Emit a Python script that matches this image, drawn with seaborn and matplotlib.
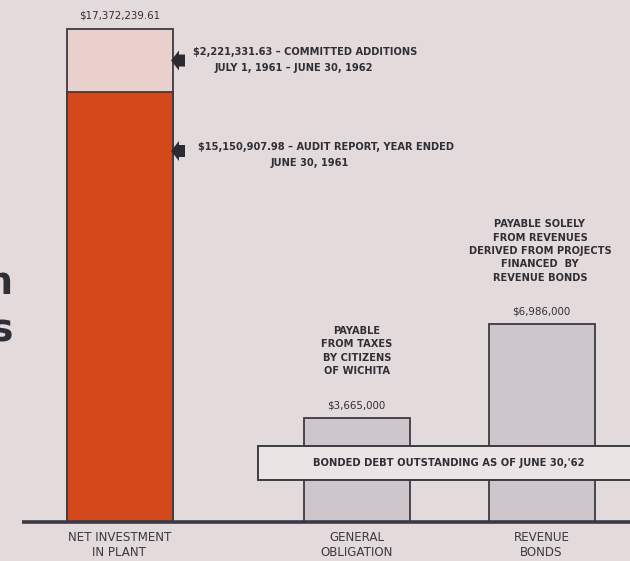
import numpy as np
import pandas as pd
import matplotlib
matplotlib.use("Agg")
import matplotlib.pyplot as plt
import matplotlib.patches as mpatches
import seaborn as sns

# dane (dolary)
LABELS = ["NET INVESTMENT\nIN PLANT", "GENERAL\nOBLIGATION", "REVENUE\nBONDS"]
KINDS = ["plant", "general", "revenue"]
AUDIT = 15150907.98        # audit report, year ended June 30, 1961
COMMITTED = 2221331.63     # committed additions July 1, 1961 - June 30, 1962
DEBT = [3665000, 6986000]  # general obligation, revenue bonds
TOTAL = AUDIT + COMMITTED

NOTE_TOP = ["– COMMITTED ADDITIONS", "JULY 1, 1961 – JUNE 30, 1962"]
NOTE_AUDIT = ["– AUDIT REPORT, YEAR ENDED", "JUNE 30, 1961"]
NOTE_GO = "PAYABLE\nFROM TAXES\nBY CITIZENS\nOF WICHITA"
NOTE_REV = "PAYABLE SOLELY\nFROM REVENUES\nDERIVED FROM PROJECTS\nFINANCED  BY\nREVENUE BONDS"
BOX_TEXT = "BONDED DEBT OUTSTANDING AS OF JUNE 30,'62"

# kolory / uklad
BG = "#e3dadb"
ORANGE = "#d4491a"
PINK = "#e9d0cd"
GREY = "#cdc7cb"
BOXC = "#ebe4e5"
INK = "#2f2f35"
EDGE = "#3b3b42"

W, H = 630, 561
BASE = 522                       # baseline w pikselach
SCALE = (BASE - 29) / TOTAL      # px na dolara
CENTERS = [119.5, 356.5, 541.5]
BAR_W = 106


def yd(p):
    return (BASE - p) / SCALE


fig = plt.figure(figsize=(W / 100, H / 100), dpi=100)
fig.patch.set_facecolor(BG)
ax = fig.add_axes([0, 0, 1, 1])
ax.set_facecolor(BG)

# gorny segment (suma) pod spodem
df_top = pd.DataFrame({"x": [CENTERS[0]], "y": [TOTAL]})
sns.barplot(data=df_top, x="x", y="y", native_scale=True, width=BAR_W,
            color=PINK, saturation=1, errorbar=None,
            edgecolor=EDGE, linewidth=1.3, ax=ax)

df = pd.DataFrame({"x": CENTERS, "y": [AUDIT] + DEBT, "kind": KINDS})
unit = np.diff(sorted(CENTERS)).min()
sns.barplot(data=df, x="x", y="y", hue="kind", native_scale=True,
            width=BAR_W / unit, saturation=1, errorbar=None, legend=False,
            palette={"plant": ORANGE, "general": GREY, "revenue": GREY},
            edgecolor=EDGE, linewidth=1.3, ax=ax)

ax.set_xlim(0, W)
ax.set_ylim(yd(H), yd(0))
ax.axis("off")

# linia bazowa
ax.plot([22, W], [0, 0], color="#3a3a46", lw=2.6, solid_capstyle="butt", zorder=5)

# ramka "bonded debt"
ax.add_patch(mpatches.Rectangle((258, yd(480)), W + 20 - 258, yd(446) - yd(480),
                                facecolor=BOXC, edgecolor=EDGE, lw=1.4, zorder=6))
ax.text(449, yd(463), BOX_TEXT, ha="center", va="center", fontsize=7.2,
        fontweight="bold", color=INK, zorder=7)


def arrow(cy_px):
    pts = [(171, cy_px), (179, cy_px - 10), (179, cy_px - 6), (185, cy_px - 6),
           (185, cy_px + 6), (179, cy_px + 6), (179, cy_px + 10)]
    ax.add_patch(mpatches.Polygon([(x, yd(y)) for x, y in pts], closed=True,
                                  facecolor="#2a2a30", edgecolor="none", zorder=6))


mid_top = BASE - (AUDIT + COMMITTED / 2) * SCALE
arrow(mid_top)
arrow(151)

bold = dict(fontweight="bold", color=INK, fontsize=7.1)
ax.text(193, yd(52), f"${COMMITTED:,.2f} " + NOTE_TOP[0], ha="left", va="center", **bold)
ax.text(294, yd(68), NOTE_TOP[1], ha="center", va="center", **bold)
ax.text(198, yd(147), f"${AUDIT:,.2f} " + NOTE_AUDIT[0], ha="left", va="center", **bold)
ax.text(310, yd(163), NOTE_AUDIT[1], ha="center", va="center", **bold)

ax.text(540, yd(251), NOTE_REV, ha="center", va="center", linespacing=1.42, **bold)
ax.text(357, yd(351), NOTE_GO, ha="center", va="center", linespacing=1.42, **bold)

vals = dict(ha="center", va="center", fontsize=7.4, color=INK)
ax.text(CENTERS[0], yd(16), f"${TOTAL:,.2f}", **vals)
ax.text(CENTERS[1], yd(405), f"${DEBT[0]:,.0f}", **vals)
ax.text(CENTERS[2], yd(311), f"${DEBT[1]:,.0f}", **vals)

for cx, lab in zip(CENTERS, LABELS):
    ax.text(cx, yd(545), lab, ha="center", va="center", fontsize=8.6,
            color="#3a3a40", linespacing=1.15)

# obciete litery z lewej krawedzi (tak jak w oryginale)
ax.text(13, yd(294), "m", ha="right", va="baseline", fontsize=27,
        fontweight="bold", color=INK)
ax.text(13, yd(342), "s", ha="right", va="baseline", fontsize=27,
        fontweight="bold", color=INK)

fig.savefig("out.png", dpi=100, facecolor=BG)
